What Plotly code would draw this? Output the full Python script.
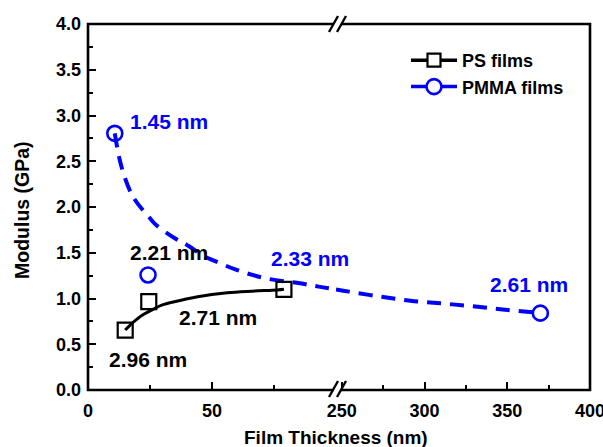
import plotly.graph_objects as go

# ---------------- data ----------------
ps_x = [15, 24.5, 79]
ps_y = [0.655, 0.965, 1.10]
ps_fit_x = [15, 17, 20, 22, 26.8, 30, 34.8, 44.2, 56.2, 66, 76.3, 79]
ps_fit_y = [0.655, 0.71, 0.78, 0.82, 0.89, 0.93, 0.965, 1.02, 1.063, 1.08, 1.093, 1.10]

pmma_x_left = [10.8, 24.2]
pmma_y_left = [2.805, 1.257]
pmma_x_right = [370]
pmma_y_right = [0.84]
pmma_fit_left_x = [10.8, 13.5, 18.2, 24.9, 27.6, 35.5, 39.6, 46.9, 50.3, 60.2, 71.8, 85.5, 93, 100]
pmma_fit_left_y = [2.805, 2.44, 2.11, 1.88, 1.80, 1.65, 1.59, 1.46, 1.42, 1.31, 1.22, 1.166, 1.13, 1.10]
pmma_fit_right_x = [246.5, 254.4, 273.4, 291.5, 309.6, 327.7, 345.7, 361.8, 370]
pmma_fit_right_y = [1.10, 1.075, 1.02, 0.976, 0.947, 0.918, 0.882, 0.856, 0.84]

left_ticks = [0, 50]
left_minor = [25, 75]
right_ticks = [250, 300, 350, 400]
right_minor = [275, 325, 375]
y_ticks = [0.0, 0.5, 1.0, 1.5, 2.0, 2.5, 3.0, 3.5, 4.0]

labels_text = ["1.45 nm", "2.21 nm", "2.71 nm", "2.96 nm", "2.33 nm", "2.61 nm"]
labels_x = [16.1, 16.1, 35.7, 7.6, 73.1, 338.5]
labels_y = [2.93, 1.50, 0.79, 0.33, 1.44, 1.15]
labels_axis = ["x", "x", "x", "x", "x", "x2"]
labels_color = ["blue", "black", "black", "black", "blue", "blue"]

# ---------------- style ----------------
BLUE = "#0000ff"
FONT = "Liberation Sans, Arial, sans-serif"
W, H = 603, 447
ML, MR, MT, MB = 88, 13, 24, 57
PW, PH = W - ML - MR, H - MT - MB
SPLIT = (336 - ML) / PW


def px(xp):
    return (xp - ML) / PW


def py(yp):
    return (H - MB - yp) / PH


fig = go.Figure()

fig.add_trace(go.Scatter(x=ps_fit_x, y=ps_fit_y, mode="lines", line=dict(color="black", width=3, shape="spline"),
                         showlegend=False, hoverinfo="skip", xaxis="x", yaxis="y"))
fig.add_trace(go.Scatter(x=pmma_fit_left_x, y=pmma_fit_left_y, mode="lines",
                         line=dict(color=BLUE, width=4, dash="14px,9px", shape="spline"),
                         showlegend=False, xaxis="x", yaxis="y"))
fig.add_trace(go.Scatter(x=pmma_fit_right_x, y=pmma_fit_right_y, mode="lines",
                         line=dict(color=BLUE, width=4, dash="14px,9px", shape="spline"),
                         showlegend=False, xaxis="x2", yaxis="y"))
fig.add_trace(go.Scatter(x=ps_x, y=ps_y, mode="markers",
                         marker=dict(symbol="square-open", size=15, color="black", line=dict(width=2.2)),
                         showlegend=False, xaxis="x", yaxis="y"))
fig.add_trace(go.Scatter(x=pmma_x_left, y=pmma_y_left, mode="markers",
                         marker=dict(symbol="circle-open", size=15, color=BLUE, line=dict(width=2.6)),
                         showlegend=False, xaxis="x", yaxis="y"))
fig.add_trace(go.Scatter(x=pmma_x_right, y=pmma_y_right, mode="markers",
                         marker=dict(symbol="circle-open", size=15, color=BLUE, line=dict(width=2.6)),
                         showlegend=False, xaxis="x2", yaxis="y"))
# legend entries
fig.add_trace(go.Scatter(x=[None], y=[None], mode="lines+markers", name="PS films",
                         line=dict(color="black", width=3.5),
                         marker=dict(symbol="square", size=13, color="white", line=dict(width=2.2, color="black"))))
fig.add_trace(go.Scatter(x=[None], y=[None], mode="lines+markers", name="PMMA films",
                         line=dict(color=BLUE, width=3.5),
                         marker=dict(symbol="circle", size=15, color="white", line=dict(width=2.6, color=BLUE))))

tickfont = dict(family=FONT, size=18, color="black", weight="bold")
common_x = dict(showline=False, zeroline=False, showgrid=False, ticks="inside", ticklen=8, tickwidth=2,
                tickcolor="black", tickfont=tickfont, ticklabelstandoff=8, anchor="y",
                ticklabeloverflow="allow", automargin=False)

annotations = []
for t, x, y, ax, c in zip(labels_text, labels_x, labels_y, labels_axis, labels_color):
    annotations.append(dict(text=t, x=x, y=y, xref=ax, yref="y", xanchor="left", yanchor="middle",
                            showarrow=False, font=dict(family=FONT, size=21, color=BLUE if c == "blue" else "black",
                                                       weight="bold")))
annotations.append(dict(text="Film Thickness (nm)", x=SPLIT, y=0, xref="paper", yref="paper", yshift=-47,
                        xanchor="center", yanchor="middle", showarrow=False,
                        font=dict(family=FONT, size=19, color="black", weight="bold")))
annotations.append(dict(text="Modulus (GPa)", x=0, y=0.5, xref="paper", yref="paper", xshift=-66, yshift=-3,
                        xanchor="center", yanchor="middle", textangle=-90, showarrow=False,
                        font=dict(family=FONT, size=19.5, color="black", weight="bold")))

shapes = [dict(type="rect", xref="paper", yref="paper", x0=0, x1=1, y0=0, y1=1,
               line=dict(color="black", width=2.6), layer="above")]
# axis break marks
for yb in (24, 389):
    shapes.append(dict(type="line", xref="paper", yref="paper", x0=px(334), x1=px(341), y0=py(yb), y1=py(yb),
                       line=dict(color="white", width=6), layer="above"))
    for cx in (333.5, 341.5):
        shapes.append(dict(type="line", xref="paper", yref="paper", x0=px(cx - 4.5), x1=px(cx + 4.5),
                           y0=py(yb + 8), y1=py(yb - 8), line=dict(color="black", width=2.4), layer="above"))

fig.update_layout(
    width=W, height=H, margin=dict(l=ML, r=MR, t=MT, b=MB, autoexpand=False),
    paper_bgcolor="white", plot_bgcolor="white",
    font=dict(family=FONT, color="black"),
    xaxis=dict(domain=[0, SPLIT], range=[0, 100], tickvals=left_ticks, ticktext=[str(v) for v in left_ticks],
               minor=dict(tickvals=left_minor, ticks="inside", ticklen=5, tickwidth=2, tickcolor="black"),
               **common_x),
    xaxis2=dict(domain=[SPLIT, 1], range=[246.5, 400], tickvals=right_ticks, ticktext=[str(v) for v in right_ticks],
                minor=dict(tickvals=right_minor, ticks="inside", ticklen=5, tickwidth=2, tickcolor="black"),
                **common_x),
    yaxis=dict(range=[0, 4], tickvals=y_ticks, tickformat=".1f", showline=False, zeroline=False, showgrid=False,
               ticks="inside", ticklen=8, tickwidth=2, tickcolor="black", tickfont=tickfont, ticklabelstandoff=6,
               automargin=False,
               minor=dict(dtick=0.25, ticks="inside", ticklen=5, tickwidth=2, tickcolor="black")),
    legend=dict(x=px(406), y=py(42), xanchor="left", yanchor="top", bgcolor="rgba(0,0,0,0)",
                font=dict(family=FONT, size=18, color="black", weight="bold"), tracegroupgap=0, itemwidth=46),
    annotations=annotations,
    shapes=shapes,
)

fig.write_html("out.html")
